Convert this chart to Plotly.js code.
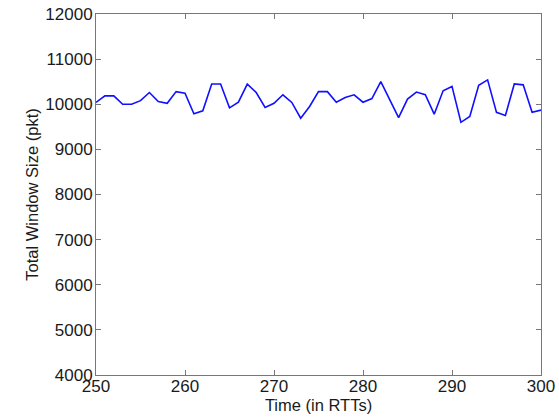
<!DOCTYPE html>
<html>
<head>
<meta charset="utf-8">
<script src="https://cdn.plot.ly/plotly-3.0.1.min.js"></script>
<style>html,body{margin:0;padding:0;background:#fff}#chart{width:559px;height:418px}</style>
</head>
<body>
<div id="chart"></div>
<script>
const time = [250,251,252,253,254,255,256,257,258,259,260,261,262,263,264,265,266,267,268,269,270,271,272,273,274,275,276,277,278,279,280,281,282,283,284,285,286,287,288,289,290,291,292,293,294,295,296,297,298,299,300];
const windowSize = [10040,10186,10186,10000,10000,10080,10260,10060,10020,10280,10245,9790,9855,10450,10450,9920,10045,10445,10260,9930,10020,10210,10040,9690,9950,10280,10280,10045,10150,10210,10045,10125,10500,10100,9705,10115,10270,10210,9780,10300,10395,9600,9730,10420,10540,9820,9750,10450,10430,9820,9870];
const xTicks = [250,260,270,280,290,300];
const yTicks = [4000,5000,6000,7000,8000,9000,10000,11000,12000];

const FONT = 'Liberation Sans, Arial, sans-serif';
const axisCommon = {
  showgrid: false, zeroline: false, showline: true, linecolor: '#777', linewidth: 1,
  mirror: 'ticks', ticks: 'inside', ticklen: 5, tickcolor: '#777', tickwidth: 1,
  tickfont: {family: FONT, size: 17, color: '#1a1a1a'}
};

Plotly.newPlot('chart', [{
  x: time, y: windowSize, type: 'scatter', mode: 'lines',
  line: {color: '#1010ff', width: 1.6}
}], {
  width: 559, height: 418,
  margin: {l: 96, r: 18, t: 14, b: 43},
  paper_bgcolor: '#fff', plot_bgcolor: '#fff',
  showlegend: false,
  xaxis: Object.assign({}, axisCommon, {
    range: [250, 300], tickvals: xTicks, ticktext: xTicks.map(String),
    ticklabelstandoff: -4,
    title: {text: 'Time (in RTTs)', font: {family: FONT, size: 16.5, color: '#1a1a1a'}, standoff: 0}
  }),
  yaxis: Object.assign({}, axisCommon, {
    range: [4000, 12000], tickvals: yTicks, ticktext: yTicks.map(String),
    ticklabelstandoff: -1,
    title: {text: 'Total Window Size (pkt)', font: {family: FONT, size: 16.5, color: '#1a1a1a'}, standoff: 2}
  })
}, {displayModeBar: false, staticPlot: true});
</script>
</body>
</html>
